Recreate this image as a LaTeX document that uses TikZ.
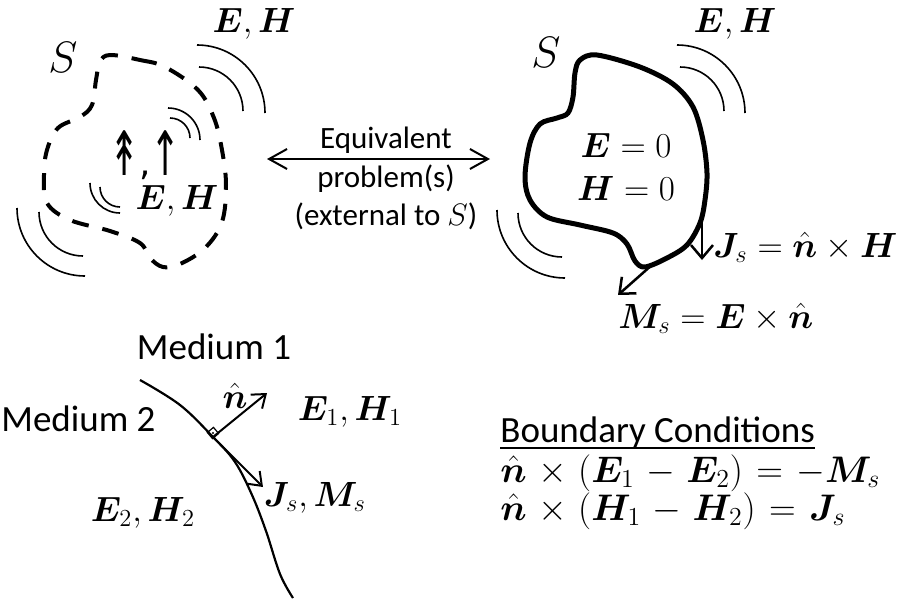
\RequirePackage{fix-cm}
\documentclass[tikz,border=0pt]{standalone}
\usepackage{amsmath}
\usepackage{bm}
\usepackage[no-math]{fontspec}
\newfontfamily\calibri{Carlito}
\newfontfamily\dejavu{DejaVu Sans}
\usetikzlibrary{arrows.meta}
\begin{document}
\begin{tikzpicture}[x=0.5pt,y=-0.5pt,
  wave/.style={line width=0.8pt},
  dashblob/.style={line width=2pt, dash pattern=on 8.5pt off 7pt},
  blob/.style={line width=2.5pt, line join=round},
  darr/.style={line width=1pt,{Straight Barb[length=9pt,width=10pt]}-{Straight Barb[length=9pt,width=10pt]}},
  narr/.style={line width=1pt,-{Straight Barb[length=6pt,width=9pt]}},
  carr/.style={line width=1.25pt,-{Straight Barb[length=6.5pt,width=11pt]}},
  txt/.style={font=\calibri\fontsize{15.5}{18}\selectfont, inner sep=0pt},
  big/.style={font=\calibri\fontsize{18.5}{22}\selectfont, inner sep=0pt},
  mth/.style={font=\fontsize{17.5}{20}\selectfont, inner sep=0pt},
  bce/.style={font=\fontsize{18.5}{22}\selectfont, inner sep=0pt,
    execute at begin node={\medmuskip=5.5mu\thickmuskip=6.5mu}},
  ]
\useasboundingbox (0,0) rectangle (902,600);

% ---------- left: original problem ----------
\draw[dashblob] plot[smooth cycle, tension=0.6] coordinates {
  (110,55) (140,60) (165,67) (198,90) (214,118) (222,150) (226,185)
  (222,222) (205,248) (180,264) (163,267) (150,258) (140,243) (110,231)
  (70,220) (47,203) (44,175) (47,150) (58,128) (80,117) (92,105) (96,80) (100,62)};
\draw[wave] (197,45) arc[start angle=90,end angle=0,radius=34pt];
\draw[wave] (199,67) arc[start angle=90,end angle=0,radius=22pt];
\draw[wave] (168,108) arc[start angle=90,end angle=0,radius=16pt];
\draw[wave] (170,118) arc[start angle=90,end angle=0,radius=10pt];
\draw[wave] (90,183) arc[start angle=180,end angle=270,radius=15pt];
\draw[wave] (100,187) arc[start angle=180,end angle=270,radius=10pt];
\draw[wave] (17,208) arc[start angle=180,end angle=270,radius=34pt];
\draw[wave] (39,212) arc[start angle=180,end angle=270,radius=22pt];

\node[font=\fontsize{22}{24}\selectfont, inner sep=0pt] (S1) at (63,57) {$S$};
\node[mth] (EH1) at (254,24) {$\bm{E}{,}\,\bm{H}$};
\node[font=\dejavu\fontsize{18}{22}\selectfont, inner sep=0pt, anchor=base] (cur) at (145,175)
  {\scalebox{1}[1.7]{↟},\scalebox{1}[1.7]{↑}};
\node[mth] (EH2) at (177,201) {$\bm{E}{,}\,\bm{H}$};

% ---------- middle ----------
\coordinate (dl) at (267,159);
\coordinate (dr) at (490,159);
\draw[darr] (dl) -- (dr);
\node[txt, anchor=base] (l1) at (386,148) {Equivalent};
\node[txt, anchor=base] (l2) at (386,187) {problem(s)};
\node[txt, anchor=base] (l3) at (386,225) {(external to $S$)};

% ---------- right: equivalent problem ----------
\draw[blob] plot[smooth cycle, tension=0.55] coordinates {
  (580,60) (597,55) (640,67) (673,84) (693,107) (703,140) (707,173)
  (705,200) (700,223) (687,245) (667,258) (645,267) (635,261) (627,244)
  (613,233) (580,225) (547,217) (530,200) (525,177) (530,143) (540,124)
  (557,118) (568,113) (573,97) (575,73)};
\draw[wave] (677,45) arc[start angle=90,end angle=0,radius=34pt];
\draw[wave] (680,67) arc[start angle=90,end angle=0,radius=22pt];
\draw[wave] (497,210) arc[start angle=180,end angle=270,radius=34pt];
\draw[wave] (518,213) arc[start angle=180,end angle=270,radius=22pt];

\node[font=\fontsize{22}{24}\selectfont, inner sep=0pt] (S2) at (546,52) {$S$};
\node[mth] (EH3) at (735,24) {$\bm{E}{,}\,\bm{H}$};
\node[mth] (E0) at (626,145) {$\bm{E}=0$};
\node[mth] (H0) at (626,188) {$\bm{H}=0$};

\coordinate (js0) at (702,213);
\coordinate (js1) at (702,260);
\draw[carr] (js0) -- (js1);
\coordinate (ms0) at (653,264);
\coordinate (ms1) at (618,295);
\draw[carr] (ms0) -- (ms1);
\node[mth, anchor=base west] (Jeq) at (713,257) {$\bm{J}_s=\hat{\bm{n}}\times\bm{H}$};
\node[mth, anchor=base west] (Meq) at (618,328) {$\bm{M}_s=\bm{E}\times\hat{\bm{n}}$};

% ---------- bottom left: interface ----------
\draw[line width=1.1pt] plot[smooth, tension=0.6] coordinates {
  (140,380) (180,405) (213,437) (235,462) (252,495) (266,531) (280,574) (293,598)};
\coordinate (P) at (213,437);
\coordinate (ntip) at (267,393);
\coordinate (ttip) at (263,487);
\draw[narr] (P) -- (ntip);
\draw[narr] (P) -- (ttip);
\node[draw, line width=0.6pt, minimum size=4pt, inner sep=0pt, rotate=40] (ra) at (213,433) {};
\fill (ra.center) circle (0.6pt);

\node[big] (m1) at (214,347) {Medium 1};
\node[big, anchor=west] (m2) at (1,419) {Medium 2};
\node[mth] (nl) at (235,396) {$\hat{\bm{n}}$};
\node[mth] (E1) at (350,412) {$\bm{E}_1,\bm{H}_1$};
\node[mth] (JM) at (315,498) {$\bm{J}_s,\bm{M}_s$};
\node[mth] (E2) at (143,513) {$\bm{E}_2,\bm{H}_2$};

% ---------- bottom right: boundary conditions ----------
\node[big, anchor=base west] (bc) at (500,442) {Boundary Conditions};
\draw[line width=0.8pt] ([yshift=-3pt]bc.base west) -- ([yshift=-3pt]bc.base east);
\node[bce, anchor=base west] (bc1) at (500,482) {$\hat{\bm{n}}\times(\bm{E}_1-\bm{E}_2)=-\bm{M}_s$};
\node[bce, anchor=base west] (bc2) at (500,520) {$\hat{\bm{n}}\times(\bm{H}_1-\bm{H}_2)=\bm{J}_s$};
\end{tikzpicture}
\end{document}
